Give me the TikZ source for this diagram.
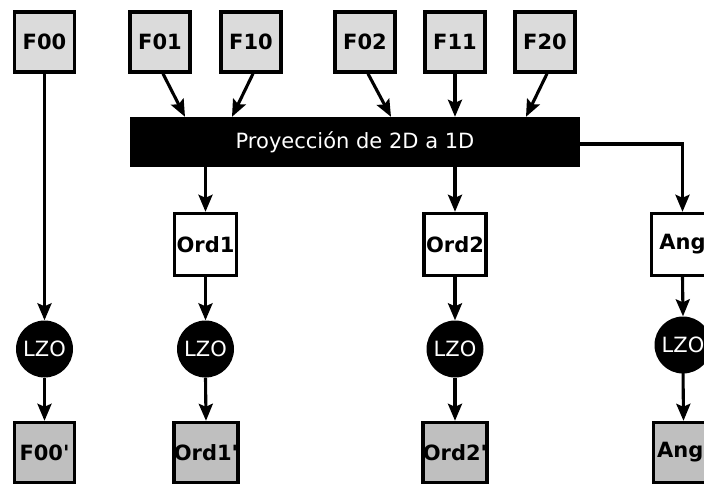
\documentclass[tikz,border=0pt]{standalone}
\usepackage{fontspec}
\setmainfont{DejaVu Sans}[Ligatures=TeXOff]
\usetikzlibrary{arrows.meta}
\begin{document}
\begin{tikzpicture}[x=1pt,y=-1pt,
  every node/.style={font=\fontsize{21}{24}\selectfont},
  inbox/.style={draw=black, line width=3.4pt, fill=black!14, minimum width=60pt, minimum height=60pt, inner sep=0pt, font=\fontsize{21}{24}\selectfont\bfseries},
  midbox/.style={draw=black, line width=3.4pt, fill=white, minimum width=62pt, minimum height=62pt, inner sep=0pt, font=\fontsize{21}{24}\selectfont\bfseries},
  outbox/.style={draw=black, line width=3.4pt, fill=black!25, minimum width=60pt, minimum height=60pt, inner sep=0pt, font=\fontsize{21}{24}\selectfont\bfseries},
  lzo/.style={circle, fill=black, text=white, minimum size=57pt, inner sep=0pt},
  arr/.style={line width=3.1pt, -{Stealth[length=17pt, width=14pt, inset=3pt]}},
]
\useasboundingbox (0,0) rectangle (704,483);

\node[inbox] (F00) at (44.5,42) {F00};
\node[inbox] (F01) at (160,42) {F01};
\node[inbox] (F10) at (251,42) {F10};
\node[inbox] (F02) at (365,42) {F02};
\node[inbox] (F11) at (455,42) {F11};
\node[inbox] (F20) at (545,42) {F20};

\node[fill=black, text=white, minimum width=450pt, minimum height=50pt, inner sep=0pt] (bar) at (355,142) {Proyección de 2D a 1D};

\node[midbox] (Ord1) at (205.5,244.5) {Ord1};
\node[midbox] (Ord2) at (455,244.5) {Ord2};
\node[midbox] (Ang) at (682.5,244.5) {Ang};

\node[lzo] (L0) at (44.5,349) {LZO};
\node[lzo] (L1) at (205.5,349) {LZO};
\node[lzo] (L2) at (455,349) {LZO};
\node[lzo] (L3) at (683,345) {LZO};

\node[outbox] (F00p) at (44.5,452.5) {F00'};
\node[outbox] (Ord1p) at (206,452.5) {Ord1'};
\node[outbox] (Ord2p) at (455,452.5) {Ord2'};
\node[outbox] (Angp) at (683.5,452.5) {Ang'};

\draw[arr] ([xshift=3pt]F01.south) -- ([xshift=-170pt]bar.north);
\draw[arr] ([xshift=2pt]F10.south) -- ([xshift=-123pt]bar.north);
\draw[arr] ([xshift=3pt]F02.south) -- ([xshift=36pt]bar.north);
\draw[arr] (F11.south) -- ([xshift=100pt]bar.north);
\draw[arr] ([xshift=2pt]F20.south) -- ([xshift=171pt]bar.north);

\draw[arr] ([xshift=-149.5pt]bar.south) -- (Ord1.north);
\draw[arr] ([xshift=100pt]bar.south) -- (Ord2.north);
\draw[arr] ([yshift=-2pt]bar.east) -| (Ang.north);

\draw[arr] (F00.south) -- (L0.north);
\draw[arr] (Ord1.south) -- (L1.north);
\draw[arr] (Ord2.south) -- (L2.north);
\draw[arr] (Ang.south) -- (L3.north);

\draw[arr] (L0.south) -- (F00p.north);
\draw[arr] (L1.south) -- (Ord1p.north);
\draw[arr] (L2.south) -- (Ord2p.north);
\draw[arr] ([yshift=5pt]L3.south) -- (Angp.north);
\end{tikzpicture}
\end{document}
